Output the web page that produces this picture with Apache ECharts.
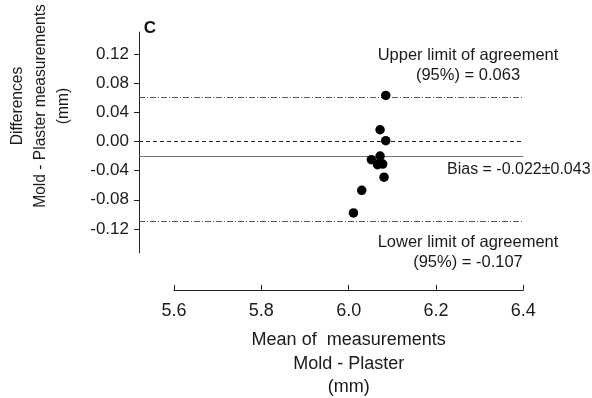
<!DOCTYPE html>
<html>
<head>
<meta charset="utf-8">
<script src="https://cdn.jsdelivr.net/npm/echarts@6/dist/echarts.min.js"></script>
<style>html,body{margin:0;padding:0;background:#fff}#c{width:592px;height:398px}</style>
</head>
<body>
<div id="c"></div>
<script>
// Data
var meanValues = [6.085, 6.072, 6.085, 6.072, 6.052, 6.066, 6.072, 6.078, 6.081, 6.030, 6.011];
var diffValues = [0.063, 0.016, 0.001, -0.020, -0.025, -0.032, -0.029, -0.031, -0.049, -0.067, -0.098];
var limitNames = ['upper', 'zero', 'bias', 'lower'];
var limitValues = [0.063, 0.0, -0.022, -0.107];
var yTicks = [-0.12, -0.08, -0.04, 0.00, 0.04, 0.08, 0.12];
var xTicks = [5.6, 5.8, 6.0, 6.2, 6.4];

var FONT = 'Liberation Sans, Arial, sans-serif';
var TXT = '#1a1a1a';

var points = meanValues.map(function (m, i) { return [m, diffValues[i]]; });

var limitStyles = {
  upper: { type: [6, 2, 1, 2], color: '#555', width: 1 },
  zero: { type: [4, 3], color: '#222', width: 1 },
  bias: { type: 'solid', color: '#777', width: 1 },
  lower: { type: [6, 2, 1, 2], color: '#555', width: 1 }
};

var chart = echarts.init(document.getElementById('c'), null, { renderer: 'canvas' });
chart.setOption({
  animation: false,
  backgroundColor: '#fff',
  grid: [
    { left: 139, right: 68.7, top: 32, bottom: 145 },
    { left: 174, right: 68.7, top: 289.7, height: 1 }
  ],
  xAxis: [
    { gridIndex: 0, type: 'value', min: 5.5198, max: 6.4, show: false },
    {
      gridIndex: 1, type: 'value', min: xTicks[0], max: xTicks[xTicks.length - 1], interval: 0.2,
      position: 'bottom',
      axisLine: { show: true, lineStyle: { color: '#222', width: 1 } },
      axisTick: { show: true, inside: true, length: 5, lineStyle: { color: '#222' } },
      axisLabel: { margin: 12, fontSize: 18, fontFamily: FONT, color: TXT,
        formatter: function (v) { return v.toFixed(1); } },
      splitLine: { show: false },
      name: 'Mean of  measurements\nMold - Plaster\n(mm)',
      nameLocation: 'middle', nameGap: 38.5,
      nameTextStyle: { fontSize: 18, fontFamily: FONT, color: TXT, lineHeight: 23.5 }
    }
  ],
  yAxis: [
    {
      gridIndex: 0, type: 'value', min: -0.153, max: 0.150,
      axisLine: { show: true, lineStyle: { color: '#222', width: 1 } },
      axisTick: { show: true, length: 5, customValues: yTicks, lineStyle: { color: '#222' } },
      axisLabel: { margin: 10, fontSize: 17, fontFamily: FONT, color: TXT, customValues: yTicks,
        formatter: function (v) { return (Math.abs(v) < 1e-9 ? 0 : v).toFixed(2); } },
      splitLine: { show: false }
    },
    { gridIndex: 1, type: 'value', show: false, min: 0, max: 1 }
  ],
  graphic: [
    { type: 'text', x: 150, y: 28.5, style: { text: 'C', font: 'bold 17px ' + FONT, fill: '#111', align: 'center', verticalAlign: 'middle' } },
    { type: 'text', x: 41, y: 106, rotation: Math.PI / 2,
      style: { text: 'Differences\nMold - Plaster measurements\n(mm)', font: '15.6px ' + FONT, fill: TXT,
        align: 'center', verticalAlign: 'middle', lineHeight: 23 } },
    { type: 'text', x: 468, y: 65, style: { text: 'Upper limit of agreement\n(95%) = 0.063', font: '16.5px ' + FONT, fill: TXT,
        align: 'center', verticalAlign: 'middle', lineHeight: 20 } },
    { type: 'text', x: 447, y: 170, style: { text: 'Bias = -0.022\u00b10.043', font: '16px ' + FONT, fill: TXT,
        align: 'left', verticalAlign: 'middle' } },
    { type: 'text', x: 468, y: 252, style: { text: 'Lower limit of agreement\n(95%) = -0.107', font: '16.5px ' + FONT, fill: TXT,
        align: 'center', verticalAlign: 'middle', lineHeight: 20 } }
  ],
  series: [
    {
      type: 'scatter', xAxisIndex: 0, yAxisIndex: 0,
      data: points, symbol: 'circle', symbolSize: 9.5,
      itemStyle: { color: '#000', opacity: 1 }, z: 5,
      markLine: {
        silent: true, symbol: 'none', label: { show: false }, z: 3,
        data: limitNames.map(function (n, i) {
          return { yAxis: limitValues[i], lineStyle: limitStyles[n] };
        })
      }
    }
  ]
});
</script>
</body>
</html>
